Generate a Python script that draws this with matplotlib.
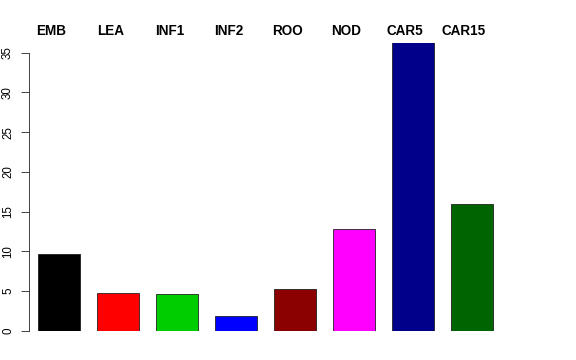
import matplotlib
matplotlib.use("Agg")
import matplotlib.pyplot as plt
import numpy as np

categories = ["EMB", "LEA", "INF1", "INF2", "ROO", "NOD", "CAR5", "CAR15"]
values = [9.6, 4.8, 4.6, 1.9, 5.3, 12.8, 36.3, 15.9]
colors = ["#000000", "#FF0000", "#00CD00", "#0000FF", "#8B0000", "#FF00FF", "#00008B", "#006400"]
yticks = [0, 5, 10, 15, 20, 25, 30, 35]

plt.rcParams['font.family'] = ['Liberation Sans', 'DejaVu Sans']

fig = plt.figure(figsize=(8, 5), dpi=72)
ax = fig.add_axes([29/576, (360-330.7)/360, 531/576, 288/360])

x = np.arange(len(categories)) * 1.4
ax.bar(x, values, width=1.0, color=colors, edgecolor="#1a1a1a", linewidth=0.8)

ax.set_xlim(-0.714, 11.9)
ax.set_ylim(0, 36.27)

for s in ["top", "right", "bottom"]:
    ax.spines[s].set_visible(False)
ax.spines["left"].set_bounds(0, 35)
ax.spines["left"].set_color("#333333")
ax.spines["left"].set_linewidth(0.9)

ax.set_yticks(yticks)
ax.set_yticklabels([str(v) for v in yticks], rotation=90, va="center", fontsize=11.5)
ax.tick_params(axis="y", length=8, width=0.9, color="#333333", pad=7)

ax.xaxis.tick_top()
ax.set_xticks(x - 0.18)
ax.set_xticklabels(categories, fontweight="bold", fontsize=13.5)
ax.tick_params(axis="x", length=0, pad=5)

fig.savefig("out.png", dpi=72)
